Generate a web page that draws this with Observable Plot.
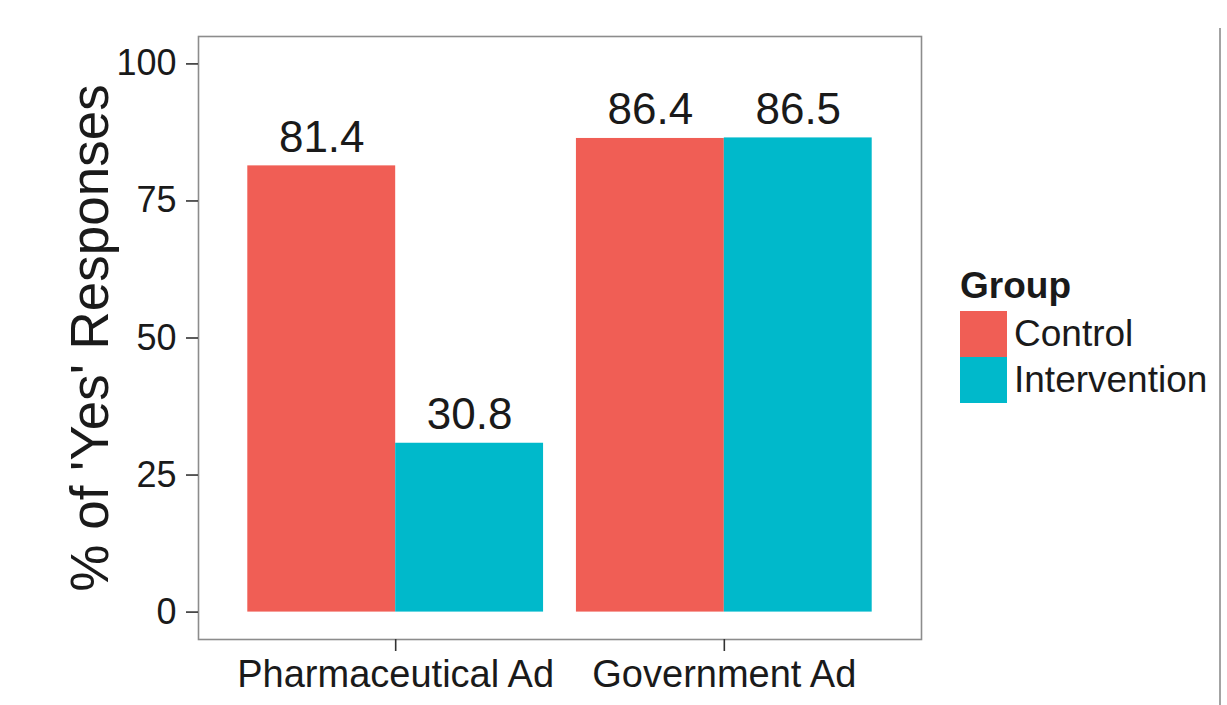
<!DOCTYPE html>
<html><head><meta charset="utf-8">
<script src="https://cdn.jsdelivr.net/npm/d3@7"></script>
<script src="https://cdn.jsdelivr.net/npm/@observablehq/plot@0.6"></script>
<style>
body{margin:0;background:#fff;font-family:"Liberation Sans",Arial,sans-serif;color:#1a1a1a;}
#wrap{position:relative;width:1227px;height:705px;overflow:hidden;background:#fff;}
#wrap > svg{position:absolute;left:0;top:0;}
#legend{position:absolute;left:960px;top:264px;font-family:"Liberation Sans",Arial,sans-serif;color:#1a1a1a;}
#legend .title{font-weight:bold;font-size:37px;line-height:43px;height:43px;margin-bottom:4px;}
#legend .lg-swatches{font-family:"Liberation Sans",Arial,sans-serif !important;font-size:37px !important;margin:0 !important;color:#1a1a1a;}
#legend .lg-swatch{margin:0 !important;padding:0 !important;line-height:46px !important;height:46px;display:flex !important;align-items:center;font-family:"Liberation Sans",Arial,sans-serif !important;font-size:37px !important;white-space:nowrap;}
#legend .lg-swatch svg{margin-right:7px !important;}
#edge{position:absolute;left:1219px;top:28px;width:2px;height:677px;background:#a3a3a3;}
</style></head><body>
<div id="wrap"><div id="edge"></div></div>
<script>
const categories = ["Pharmaceutical Ad", "Government Ad"];
const groups = ["Control", "Intervention"];
const controlValues = [81.4, 86.4];
const interventionValues = [30.8, 86.5];
const yTicks = [0, 25, 50, 75, 100];
const groupColors = ["#F05E55", "#00B9CB"];
const yTitle = "% of 'Yes' Responses";
const legendTitle = "Group";

const rows = [];
categories.forEach((c, i) => {
  rows.push({category: c, idx: i + 1, group: groups[0], value: controlValues[i], side: 0});
  rows.push({category: c, idx: i + 1, group: groups[1], value: interventionValues[i], side: 1});
});
const half = 0.45; // dodge width per bar (ggplot 0.9 / 2)

const chart = Plot.plot({
  width: 1227,
  height: 705,
  marginLeft: 198,
  marginRight: 306,
  marginTop: 36,
  marginBottom: 66,
  style: {fontFamily: "Liberation Sans, Arial, sans-serif", fontSize: "36px", background: "transparent", color: "#1a1a1a"},
  x: {domain: [0.4, 2.6]},
  y: {domain: [-5, 105]},
  color: {domain: groups, range: groupColors},
  marks: [
    Plot.rect(rows, {
      x1: d => d.idx - half + d.side * half,
      x2: d => d.idx + d.side * half,
      y1: d => 0,
      y2: "value",
      fill: "group"
    }),
    Plot.text(rows, {
      x: d => d.idx - half / 2 + d.side * half,
      y: "value",
      text: d => d.value.toFixed(1),
      lineAnchor: "bottom",
      dy: -14,
      fontSize: 44,
      fill: "#1a1a1a"
    }),
    Plot.frame({stroke: "#8c8c8c", strokeWidth: 1.6}),
    Plot.axisX([1, 2], {tickFormat: d => categories[d - 1], tickSize: 12, tickPadding: 9, fontSize: 38, label: null, stroke: "#333", strokeWidth: 1.6, fill: "#1a1a1a"}),
    Plot.axisY(yTicks, {tickSize: 12, tickPadding: 10, fontSize: 36, label: null, stroke: "#333", strokeWidth: 1.6, fill: "#1a1a1a"}),
    Plot.text([yTitle], {frameAnchor: "left", textAnchor: "middle", rotate: -90, dx: -91, lineAnchor: "bottom", fontSize: 53, fill: "#1a1a1a"})
  ]
});
const wrap = document.getElementById("wrap");
wrap.appendChild(chart);

const legendBox = document.createElement("div");
legendBox.id = "legend";
const t = document.createElement("div");
t.className = "title";
t.textContent = legendTitle;
legendBox.appendChild(t);
const lg = Plot.legend({
  color: {domain: groups, range: groupColors},
  legend: "swatches",
  columns: 1,
  swatchWidth: 47,
  swatchHeight: 46,
  className: "lg"
});
legendBox.appendChild(lg);
wrap.appendChild(legendBox);
</script>
</body></html>
